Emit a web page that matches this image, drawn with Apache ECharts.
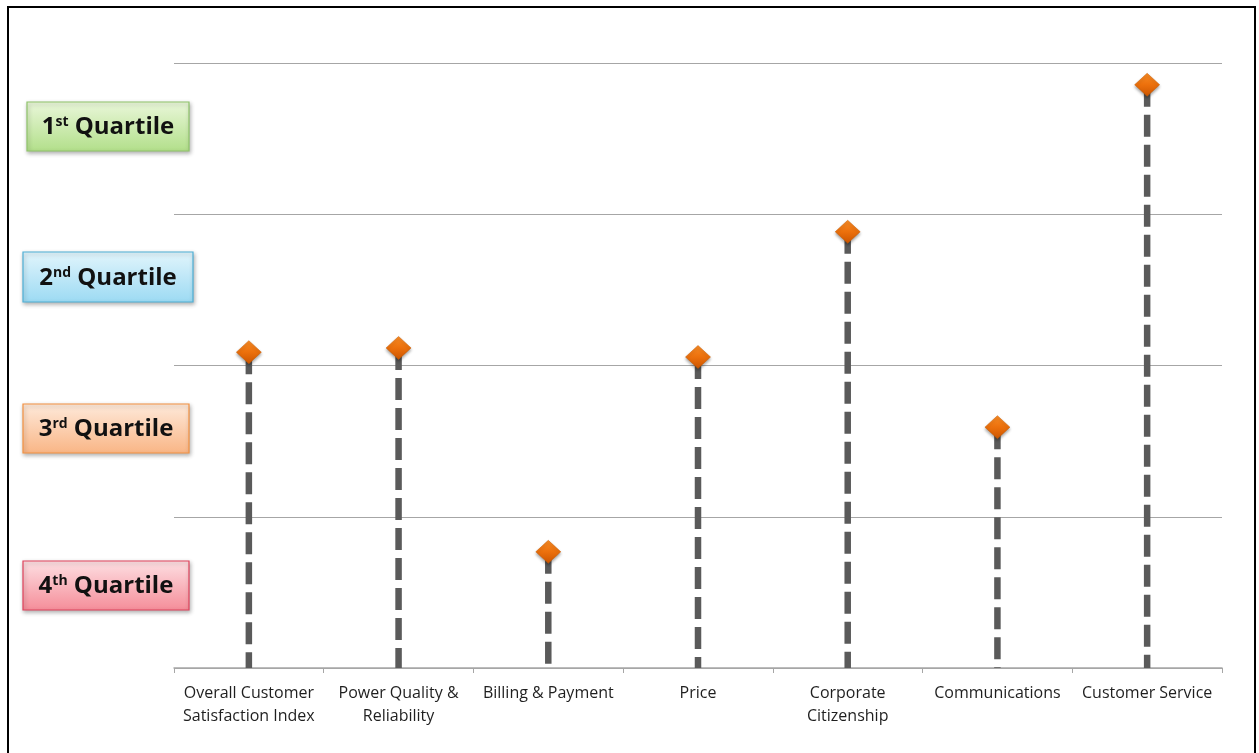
<!DOCTYPE html>
<html>
<head>
<meta charset="utf-8">
<script src="https://cdn.jsdelivr.net/npm/echarts@6/dist/echarts.min.js"></script>
<style>
html,body{margin:0;padding:0;background:#fff;}
#chart{width:1259px;height:753px;}
</style>
</head>
<body>
<div id="chart"></div>
<script>
const categories = [
  "Overall Customer\nSatisfaction Index",
  "Power Quality &\nReliability",
  "Billing & Payment",
  "Price",
  "Corporate\nCitizenship",
  "Communications",
  "Customer Service"
];
const scores = [52.2, 52.9, 19.2, 51.4, 72.1, 39.8, 96.4];
const quartileNumbers = ["1", "2", "3", "4"];
const quartileSuffixes = ["st", "nd", "rd", "th"];

const boxStyles = [
  {top:'#eaf7da', bottom:'#b2df8a', border:'#8fc46a', x:27, y:102, w:162, h:49},
  {top:'#e2f5fc', bottom:'#9cdaf3', border:'#4fb0d6', x:23, y:252, w:170, h:50},
  {top:'#feeadb', bottom:'#f9b585', border:'#f39242', x:23, y:404, w:166, h:49},
  {top:'#fde0e3', bottom:'#f58d99', border:'#e0435c', x:23, y:561, w:166, h:49}
];

const graphics = [
  {type:'rect', shape:{x:8, y:7, width:1247, height:760}, style:{fill:'none', stroke:'#000', lineWidth:2}, z:10}
];
boxStyles.forEach((b, i) => {
  graphics.push({
    type:'rect',
    shape:{x:b.x, y:b.y, width:b.w, height:b.h},
    style:{
      fill:new echarts.graphic.LinearGradient(0,0,0,1,[{offset:0,color:b.top},{offset:1,color:b.bottom}]),
      stroke:b.border, lineWidth:1.2,
      shadowBlur:4, shadowOffsetX:1, shadowOffsetY:2, shadowColor:'rgba(0,0,0,0.3)'
    },
    z:5
  });
  graphics.push({
    type:'text',
    x:b.x + b.w/2, y:b.y + b.h/2 + 1,
    style:{
      text:'{n|' + quartileNumbers[i] + '}{s|' + quartileSuffixes[i] + '}{n| Quartile}',
      align:'center', verticalAlign:'middle',
      rich:{
        n:{fontFamily:'Open Sans', fontWeight:'bold', fontSize:24, fill:'#111', verticalAlign:'bottom'},
        s:{fontFamily:'Open Sans', fontWeight:'bold', fontSize:14, fill:'#111', verticalAlign:'top', padding:[0,0,10,0]}
      }
    },
    z:6
  });
});

const chart = echarts.init(document.getElementById('chart'));
chart.setOption({
  animation:false,
  backgroundColor:'#fff',
  grid:{left:174, right:37, top:63, bottom:85, containLabel:false},
  xAxis:{
    type:'category',
    data:categories,
    boundaryGap:true,
    axisLine:{lineStyle:{color:'#a6a6a6', width:1.5}},
    axisTick:{show:true, length:5, lineStyle:{color:'#a6a6a6'}},
    axisLabel:{interval:0, fontFamily:'Open Sans', fontSize:16, color:'#1f1f1f', lineHeight:23, margin:14}
  },
  yAxis:{
    type:'value', min:0, max:100, interval:25,
    axisLabel:{show:false}, axisLine:{show:false}, axisTick:{show:false},
    splitLine:{lineStyle:{color:'#a6a6a6', width:1.2}}
  },
  graphic:graphics,
  series:[
    {
      type:'custom',
      data:scores.map((v,i)=>[i, v]),
      z:2,
      renderItem:function(params, api){
        const x = api.value(0);
        const p1 = api.coord([x, api.value(1)]);
        const p0 = api.coord([x, 0]);
        return {
          type:'line',
          shape:{x1:p1[0], y1:p1[1], x2:p0[0], y2:p0[1]},
          style:{stroke:'#5a5a5a', lineWidth:6.5, lineDash:[22,8]}
        };
      }
    },
    {
      type:'scatter',
      data:scores.map((v,i)=>[i, v]),
      symbol:'diamond',
      symbolSize:[25,23],
      z:3,
      itemStyle:{
        color:new echarts.graphic.LinearGradient(0,0,0,1,[{offset:0,color:'#f88c26'},{offset:0.5,color:'#ec700c'},{offset:1,color:'#cc5500'}]),
        borderColor:'#c85a00', borderWidth:0.5,
        opacity:1,
        shadowBlur:3, shadowOffsetY:2, shadowColor:'rgba(0,0,0,0.35)'
      }
    }
  ]
});
</script>
</body>
</html>
